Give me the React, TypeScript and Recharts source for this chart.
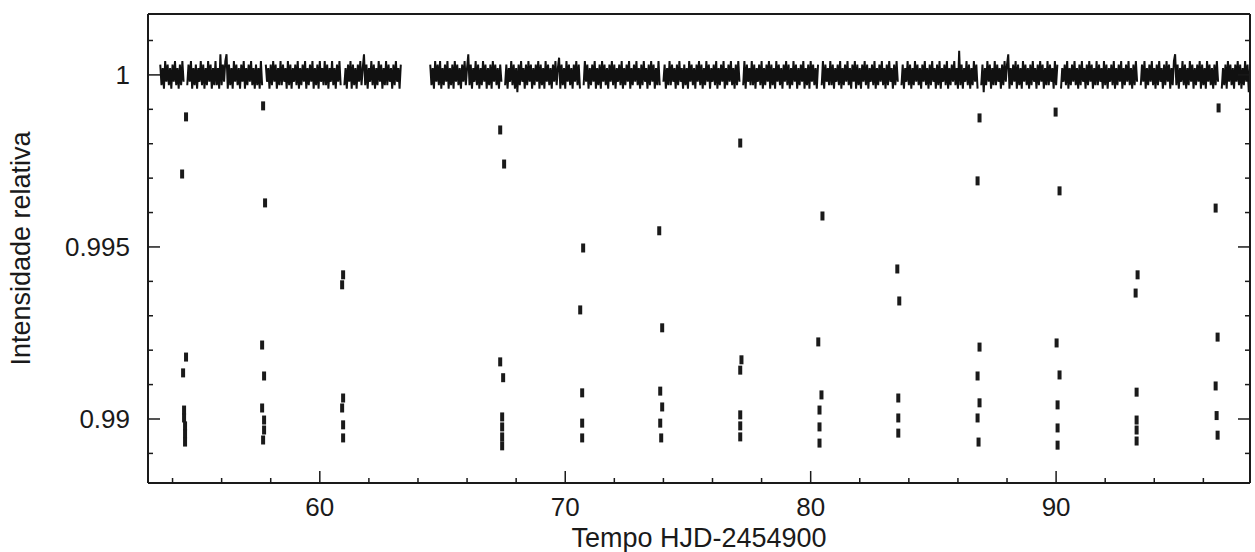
import React from "react";
import { ComposedChart, Line, Scatter, XAxis, YAxis } from "recharts";

const FONT = "'Liberation Sans', Arial, Helvetica, sans-serif";
const INK = "#1a1a1a";

// out-of-transit light curve, sampled every 0.05 d from 53.5 (one row = one day)
// flux - 1 in units of 1e-4, null = gap in the data / points in transit
const baseStart = 53.5;
const baseStep = 0.05;
const n = null;
const baseDev: (number | null)[] = [
  3, -3, 2, -4, 4, -2, 3, -3, 2, -4, 3, -2, 4, -3, 2, -4, 3, -3, 4, -2,
  n, n, -3, 3, -2, 4, -4, 2, -3, 3, -4, 2, -2, 4, -3, 3, -4, 2, -3, 4,
  -2, 3, -4, 2, -3, 4, -3, 2, -4, 6, -3, 3, -2, 4, 6, -4, 3, -3, 2, -4,
  4, -2, 3, -3, 2, -4, 3, -2, 4, -4, 2, -3, 3, -2, 4, -3, 2, -4, 3, -3,
  2, -4, 4, -3, n, n, 3, -2, 2, -4, 3, -3, 4, -2, 3, -4, 2, -3, 4, -3,
  3, -2, 2, -4, 4, -3, 3, -4, 2, -2, 3, -3, 4, -4, 2, -3, 3, -2, 4, -4,
  2, -3, 3, -2, 4, -4, 2, -3, 3, -4, 4, -2, 2, -3, 4, -3, 3, -4, 2, -2,
  4, -3, 2, -4, 3, -2, 4, -3, n, n, -3, 2, -4, 3, -2, 4, -4, 3, -3, 2,
  -4, 3, -2, 4, -3, 2, 6, -3, 3, -4, 2, -2, 4, -3, 3, -4, 2, -3, 4, -2,
  3, -4, 2, -3, 4, -3, 3, -2, 2, -4, 3, -3, 4, -2, 2, -4, 3, n, n, n,
  n, n, n, n, n, n, n, n, n, n, n, n, n, n, n, n, n, n, n, n,
  3, -3, 2, -4, 4, -2, 3, -3, 4, -4, 2, -3, 3, -2, 4, -4, 2, -3, 3, -4,
  4, -2, 3, -3, 2, -4, 3, -2, 4, -3, 2, 6, -3, 3, -4, 2, -2, 4, -3, 3,
  -4, 2, -3, 4, -2, 3, -4, 2, -3, 3, -4, 4, -2, 3, -3, 2, -4, 3, -2, n,
  n, -3, 3, -4, 2, -2, 4, -3, 3, -4, 2, -5, 3, -3, 4, -2, 2, -4, 3, -3,
  4, -2, 3, -4, 2, -3, 3, -2, 4, -4, 3, -3, 2, -4, 4, -2, 3, -3, 2, -4,
  3, -2, 4, -3, 2, 5, -4, 3, -3, 2, -4, 4, -2, 3, -3, 2, -4, 3, -2, 4,
  -3, 3, -4, n, n, -3, 4, -2, 3, -4, 2, -3, 3, -2, 4, -4, 2, -3, 3, -4,
  4, -2, 3, -3, 2, -4, 3, -2, 4, -3, 3, -4, 2, -2, 3, -3, 4, -4, 2, -3,
  3, -2, 4, -4, 2, -3, 3, -2, 4, -3, 2, -4, 3, -3, 4, -2, 2, -4, 3, -3,
  4, -2, 3, -4, 2, -3, 4, -3, n, n, -2, 3, -4, 2, -3, 4, -3, 3, -2, 2,
  -4, 3, -3, 4, -2, 2, -4, 3, -3, 2, -4, 4, -2, 3, -3, 2, -4, 3, -2, 4,
  -3, 3, -4, 2, -3, 4, -2, 3, -4, 2, -2, 3, -3, 4, -4, 2, -3, 3, -2, 4,
  -4, 2, -3, 3, -2, 4, -3, 2, -4, 3, -3, 4, -2, n, n, -3, 4, -4, 3, -2,
  2, -3, 4, -3, 3, -4, 2, -2, 3, -3, 4, -4, 2, -3, 3, -2, 4, -4, 3, -3,
  2, -4, 4, -2, 3, -3, 2, -4, 3, -2, 4, -3, 3, -4, 2, -3, 4, -2, 3, -4,
  2, -3, 3, -2, 4, -4, 2, -3, 3, -4, 4, -2, 3, -3, 2, -4, 3, n, n, -3,
  4, -4, 3, -2, 2, -3, 4, -3, 3, -4, 2, -2, 3, -3, 4, -4, 2, -3, 3, -2,
  4, -3, 2, -4, 3, -2, 4, -4, 3, -3, 2, -4, 3, -2, 4, -3, 3, -4, 2, -2,
  3, -3, 4, -4, 2, -3, 3, -2, 4, -3, 2, -4, 3, -3, 4, -2, 2, -4, 3, -3,
  4, -2, n, n, -3, 3, -4, 2, -2, 4, -3, 3, -4, 2, -3, 4, -2, 3, -3, 2,
  -4, 3, -2, 4, -3, 2, -4, 3, -3, 4, -2, 2, -4, 3, -3, 4, -4, 2, -2, 3,
  -3, 4, -4, 2, -3, 3, -2, 4, -3, 2, -4, 7, -3, 3, -4, 2, -2, 4, -3, 3,
  -4, 2, -3, 4, -2, 3, -4, n, n, -3, 3, -5, 2, -3, 4, -2, 3, -4, 2, -3,
  4, -3, 3, -2, 2, -4, 3, -3, 4, -2, 3, 6, -4, 2, -3, 3, -2, 4, -4, 3,
  -3, 2, -4, 4, -2, 3, -3, 2, -4, 3, -3, 4, -2, 2, -4, 3, -3, 4, -2, 3,
  -4, 2, -3, 4, -3, 3, -2, 2, -4, 4, -3, 3, n, n, -4, 2, -2, 3, -3, 4,
  -4, 2, -3, 3, -2, 4, -3, 2, -4, 3, -3, 4, -2, 2, -4, 3, -3, 4, -2, 3,
  -4, 2, -3, 4, -3, 3, -2, 2, -4, 4, -3, 3, -4, 2, -2, 3, -3, 4, -4, 2,
  -3, 3, -2, 4, -4, 2, -3, 3, -2, 4, -3, 2, -4, 3, -3, 4, -2, n, n, -3,
  3, -2, 4, -4, 2, -3, 3, -2, 4, -3, 2, -4, 3, -3, 4, -2, 2, -4, 3, -3,
  4, -2, 3, -4, 2, -3, 4, 6, -3, 3, -4, 2, -2, 4, -3, 3, -4, 2, -3, 4,
  -2, 3, -4, 2, -3, 3, -2, 4, -4, 3, -3, 2, -4, 4, -2, 3, -3, 2, -4, 3,
  -3, 4, -2, n, n, -4, 2, -3, 3, -4, 4, -2, 3, -3, 2, -4, 3, -2, 4, -3,
  3, -4, 2, -3, 4, -2, 3, -5, 2,
];

// in-transit points [time, relative flux]
const transitPoints: [number, number][] = [
  [54.55, 0.99878], [54.39, 0.99712], [54.55, 0.9918], [54.43, 0.99134],
  [54.47, 0.99026], [54.47, 0.99003], [54.51, 0.9898], [54.51, 0.98957], [54.51, 0.98933],
  [57.69, 0.9991], [57.77, 0.99628], [57.65, 0.99215], [57.73, 0.99125],
  [57.65, 0.99032], [57.73, 0.98997], [57.73, 0.98968], [57.69, 0.98939],
  [60.95, 0.99419], [60.91, 0.9939], [60.95, 0.99061], [60.91, 0.99032],
  [60.95, 0.98983], [60.95, 0.98945],
  [67.35, 0.9984], [67.51, 0.99741], [67.35, 0.99166], [67.47, 0.9912],
  [67.43, 0.99006], [67.43, 0.98977], [67.43, 0.98948], [67.43, 0.98922],
  [70.73, 0.99497], [70.61, 0.99317], [70.69, 0.99076], [70.69, 0.98988], [70.69, 0.98945],
  [73.83, 0.99547], [73.95, 0.99265], [73.87, 0.99081], [73.95, 0.99035],
  [73.87, 0.98988], [73.91, 0.98945],
  [77.13, 0.99802], [77.18, 0.99172], [77.13, 0.99142], [77.13, 0.99012],
  [77.13, 0.9898], [77.13, 0.98948],
  [80.48, 0.9959], [80.31, 0.99224], [80.44, 0.9907], [80.36, 0.99026],
  [80.36, 0.98977], [80.36, 0.9893],
  [83.53, 0.99436], [83.61, 0.99343], [83.57, 0.99061], [83.57, 0.99003], [83.57, 0.98959],
  [86.88, 0.99875], [86.8, 0.99692], [86.88, 0.99209], [86.8, 0.99125],
  [86.88, 0.99047], [86.8, 0.99003], [86.84, 0.98933],
  [89.98, 0.99892], [90.14, 0.99663], [90.02, 0.99221], [90.14, 0.99128],
  [90.06, 0.99041], [90.06, 0.98974], [90.06, 0.98924],
  [93.32, 0.99419], [93.24, 0.99366], [93.28, 0.99078], [93.28, 0.98997],
  [93.28, 0.98968], [93.28, 0.98936],
  [96.62, 0.99904], [96.5, 0.99613], [96.58, 0.99238], [96.5, 0.99096],
  [96.54, 0.9901], [96.58, 0.98953],
];

const xTicks = [54, 56, 58, 60, 62, 64, 66, 68, 70, 72, 74, 76, 78, 80, 82, 84, 86, 88, 90, 92, 94, 96];
const xMajor = [60, 70, 80, 90];
const yTicks = [0.989, 0.99, 0.991, 0.992, 0.993, 0.994, 0.995, 0.996, 0.997, 0.998, 0.999, 1, 1.001];
const yMajor = [0.99, 0.995, 1];

const baseline = baseDev.map((d, i) => ({
  t: Math.round((baseStart + i * baseStep) * 1000) / 1000,
  f: d === null ? null : 1 + d * 1e-4,
}));
const transits = transitPoints.map(([t, f]) => ({ t, f }));

const isXMajor = (v: number) => xMajor.includes(v);
const isYMajor = (v: number) => yMajor.some((m) => Math.abs(m - v) < 1e-7);

const BottomTick = ({ x, y, payload }: any) => {
  const major = isXMajor(payload.value);
  return (
    <g>
      <line x1={x} x2={x} y1={y} y2={y - (major ? 12 : 5)} stroke={INK} strokeWidth={1.5} />
      {major && (
        <text x={x} y={y + 33} textAnchor="middle" fontSize={26} fontFamily={FONT} fill={INK}>
          {payload.value}
        </text>
      )}
    </g>
  );
};

const TopTick = ({ x, y, payload }: any) => {
  const major = isXMajor(payload.value);
  return <line x1={x} x2={x} y1={y} y2={y + (major ? 12 : 5)} stroke={INK} strokeWidth={1.5} />;
};

const LeftTick = ({ x, y, payload }: any) => {
  const major = isYMajor(payload.value);
  return (
    <g>
      <line x1={x} x2={x + (major ? 12 : 5)} y1={y} y2={y} stroke={INK} strokeWidth={1.5} />
      {major && (
        <text x={x - 18} y={y + 9} textAnchor="end" fontSize={26} fontFamily={FONT} fill={INK}>
          {String(payload.value)}
        </text>
      )}
    </g>
  );
};

const RightTick = ({ x, y, payload }: any) => {
  const major = isYMajor(payload.value);
  return <line x1={x} x2={x - (major ? 12 : 5)} y1={y} y2={y} stroke={INK} strokeWidth={1.5} />;
};

const Dash = ({ cx, cy }: any) => (
  <rect x={cx - 2} y={cy - 4.5} width={4} height={9} fill={INK} />
);

const axisLine = { stroke: INK, strokeWidth: 2 };

export default function App() {
  return (
    <div style={{ position: "absolute", left: 0, top: 0, width: 1255, height: 552, background: "#fff" }}>
      <ComposedChart width={1255} height={552} margin={{ top: 13, right: 4, bottom: 0, left: 0 }}>
        <XAxis
          xAxisId="x"
          dataKey="t"
          type="number"
          domain={[53, 97.9]}
          allowDataOverflow
          ticks={xTicks}
          interval={0}
          height={69}
          tickSize={0}
          tickMargin={0}
          axisLine={axisLine}
          tickLine={false}
          tick={BottomTick}
          label={{
            value: "Tempo HJD-2454900",
            position: "insideBottom",
            offset: 5,
            style: { fontSize: 27, fontFamily: FONT, fill: INK },
          }}
        />
        <XAxis
          xAxisId="xt"
          orientation="top"
          type="number"
          domain={[53, 97.9]}
          allowDataOverflow
          ticks={xTicks}
          interval={0}
          height={1}
          tickSize={0}
          tickMargin={0}
          axisLine={axisLine}
          tickLine={false}
          tick={TopTick}
        />
        <YAxis
          yAxisId="y"
          type="number"
          domain={[0.98814, 1.00177]}
          allowDataOverflow
          ticks={yTicks}
          interval={0}
          width={148}
          tickSize={0}
          tickMargin={0}
          axisLine={axisLine}
          tickLine={false}
          tick={LeftTick}
          label={{
            value: "Intensidade relativa",
            angle: -90,
            position: "insideLeft",
            offset: 20,
            style: { textAnchor: "middle", fontSize: 27, fontFamily: FONT, fill: INK },
          }}
        />
        <YAxis
          yAxisId="yr"
          orientation="right"
          type="number"
          domain={[0.98814, 1.00177]}
          allowDataOverflow
          ticks={yTicks}
          interval={0}
          width={1}
          tickSize={0}
          tickMargin={0}
          axisLine={axisLine}
          tickLine={false}
          tick={RightTick}
        />
        <Line
          xAxisId="x"
          yAxisId="y"
          data={baseline}
          dataKey="f"
          type="linear"
          stroke="#111"
          strokeWidth={2}
          dot={false}
          connectNulls={false}
          isAnimationActive={false}
        />
        <Scatter
          xAxisId="x"
          yAxisId="y"
          data={transits}
          dataKey="f"
          shape={Dash}
          isAnimationActive={false}
        />
      </ComposedChart>
    </div>
  );
}
